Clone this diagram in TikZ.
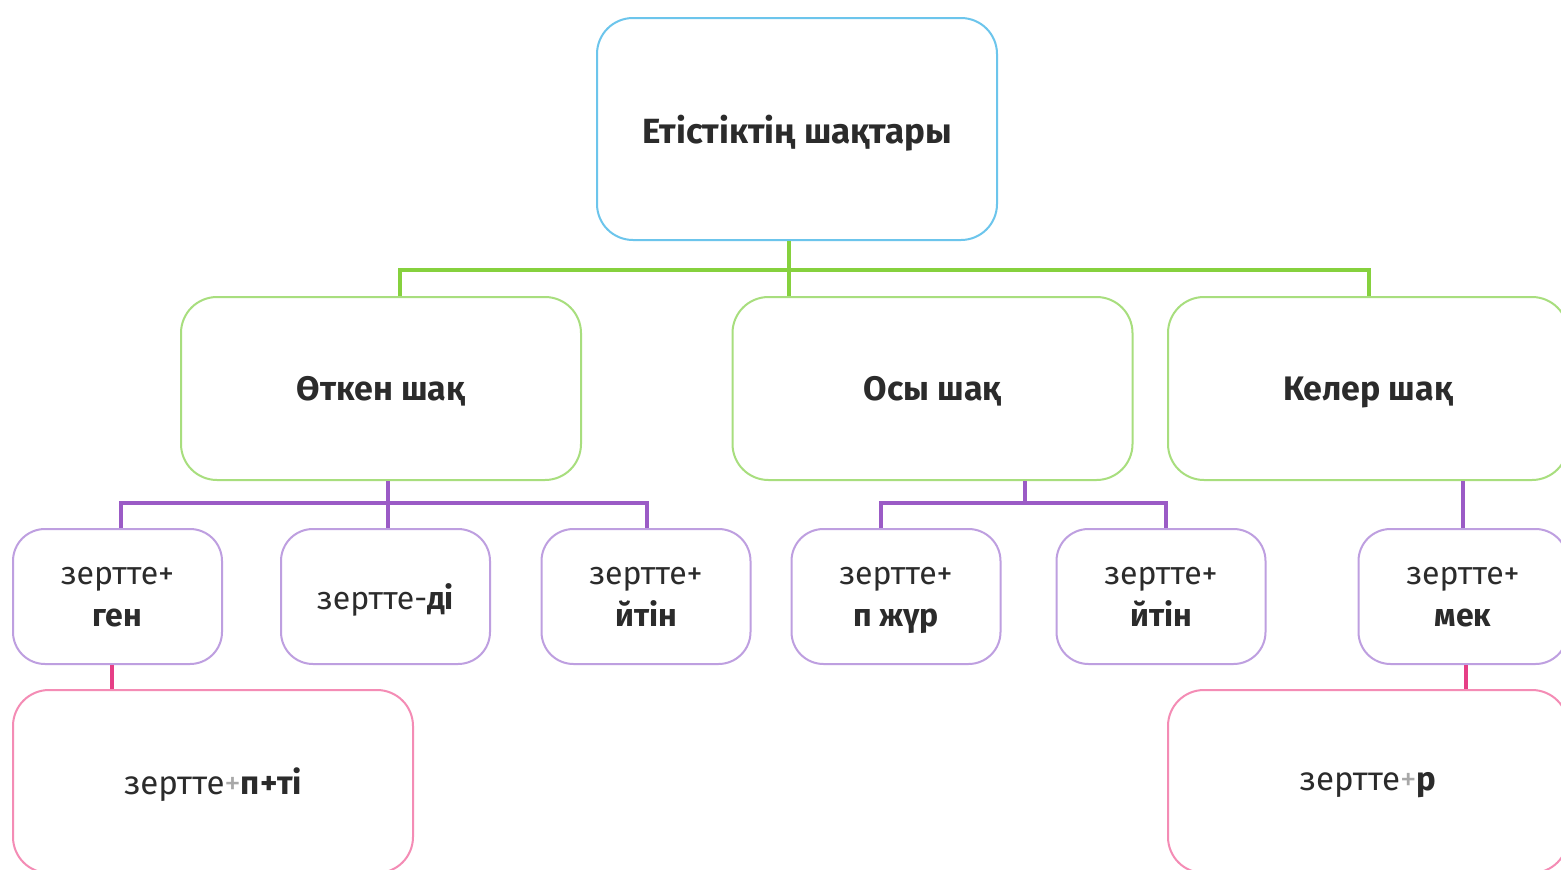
\documentclass[tikz,border=0pt]{standalone}
\usepackage{fontspec}
\setmainfont{Fira Sans}
\definecolor{txt}{HTML}{2B2B2B}
\definecolor{blueB}{HTML}{6CC5EC}
\definecolor{greenB}{HTML}{A8DE7E}
\definecolor{greenL}{HTML}{86D13E}
\definecolor{purpB}{HTML}{BE9FE0}
\definecolor{purpL}{HTML}{9B5BC6}
\definecolor{pinkB}{HTML}{F48CB5}
\definecolor{pinkL}{HTML}{E63E86}
\definecolor{plusgray}{HTML}{A8A8A8}
\tikzset{
  box/.style={draw, line width=2, fill=white, align=center, text=txt, inner sep=0pt, text depth=0pt},
  bigbox/.style={box, rounded corners=36, minimum width=400, minimum height=183},
  smallbox/.style={box, rounded corners=32, minimum width=209, minimum height=135, font=\fontsize{32}{42}\selectfont},
  gline/.style={draw=greenL, line width=4},
  pline/.style={draw=purpL, line width=4},
  kline/.style={draw=pinkL, line width=4}
}
\begin{document}
\begin{tikzpicture}[x=1pt,y=-1pt]
\useasboundingbox (0,0) rectangle (1561,870);
\clip (0,0) rectangle (1561,870);
\fill[white] (0,0) rectangle (1561,870);
\coordinate (g) at (789,270);
\coordinate (p1) at (388,503);
\coordinate (p2) at (1025,503);
% nodes
\node[bigbox, draw=blueB, minimum height=222, font=\fontsize{35}{42}\selectfont\bfseries] (root) at (797,129) {Етістіктің шақтары};
\node[bigbox, draw=greenB, font=\fontsize{34}{40}\selectfont\bfseries] (n1) at (381,388.5) {Өткен шақ};
\node[bigbox, draw=greenB, font=\fontsize{34}{40}\selectfont\bfseries] (n2) at (932.5,388.5) {Осы шақ};
\node[bigbox, draw=greenB, font=\fontsize{34}{40}\selectfont\bfseries] (n3) at (1368,388.5) {Келер шақ};
\node[smallbox, draw=purpB] (b1) at (117.5,596.5) {зертте+\\\textbf{ген}};
\node[smallbox, draw=purpB] (b2) at (385.5,596.5) {зертте-\textbf{ді}};
\node[smallbox, draw=purpB] (b3) at (646,596.5) {зертте+\\\textbf{йтін}};
\node[smallbox, draw=purpB] (b4) at (896,596.5) {зертте+\\\textbf{п жүр}};
\node[smallbox, draw=purpB] (b5) at (1161,596.5) {зертте+\\\textbf{йтін}};
\node[smallbox, draw=purpB] (b6) at (1463,596.5) {зертте+\\\textbf{мек}};
\node[bigbox, draw=pinkB, font=\fontsize{33}{40}\selectfont] (l1) at (213,781.5) {зертте\textcolor{plusgray}{+}\textbf{п+ті}};
\node[bigbox, draw=pinkB, font=\fontsize{33}{40}\selectfont] (l2) at (1368,781.5) {зертте\textcolor{plusgray}{+}\textbf{р}};
% green
\draw[gline] (g |- root.south) -- (g);
\draw[gline] ([xshift=19]n1.north) |- (g) -| ([xshift=1]n3.north);
\draw[gline] (g) -- (g |- n2.north);
% purple
\draw[pline] (p1 |- n1.south) -- (p1);
\draw[pline] ([xshift=3.5]b1.north) |- (p1) -| ([xshift=1]b3.north);
\draw[pline] (p1) -- (p1 |- b2.north);
\draw[pline] (p2 |- n2.south) -- (p2);
\draw[pline] ([xshift=-15]b4.north) |- (p2) -| ([xshift=5]b5.north);
\draw[pline] (n3.south -| b6.north) -- (b6.north);
% pink
\draw[kline] ([xshift=-5.5]b1.south) -- ([xshift=-5.5]b1.south |- l1.north);
\draw[kline] ([xshift=3]b6.south) -- ([xshift=3]b6.south |- l2.north);
\end{tikzpicture}
\end{document}
